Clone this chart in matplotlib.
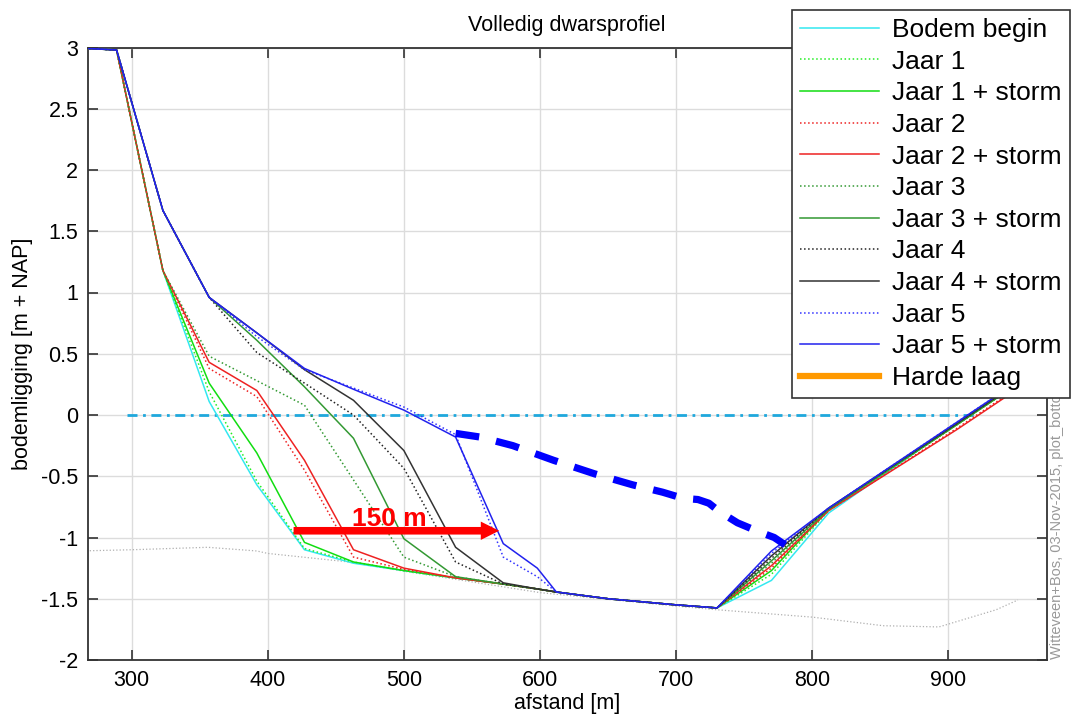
import matplotlib
matplotlib.use('Agg')
import matplotlib.pyplot as plt
from matplotlib.lines import Line2D
from matplotlib.patches import FancyArrow

plt.rcParams['font.family'] = ['Liberation Sans', 'DejaVu Sans']

# ---------------- data ----------------
x_nodes = [254, 289, 323, 357, 392, 427, 463, 500, 538, 573, 598, 612, 650, 700, 730, 770, 812, 906, 941, 975]

bodem_begin   = [3.0, 2.98, 1.18, 0.11, -0.57, -1.10, -1.21, -1.27, -1.33, -1.38, -1.42, -1.445, -1.50, -1.55, -1.575, -1.35, -0.80, -0.07, 0.19, 0.45]
jaar1         = [3.0, 2.98, 1.18, 0.19, -0.54, -1.09, -1.20, -1.27, -1.33, -1.38, -1.42, -1.445, -1.50, -1.55, -1.575, -1.30, -0.78, -0.08, 0.18, 0.44]
jaar1_storm   = [3.0, 2.98, 1.18, 0.26, -0.31, -1.04, -1.20, -1.27, -1.33, -1.38, -1.42, -1.445, -1.50, -1.55, -1.575, -1.27, -0.77, -0.08, 0.18, 0.44]
jaar2         = [3.0, 2.98, 1.18, 0.38, 0.15, -0.45, -1.16, -1.26, -1.33, -1.38, -1.42, -1.445, -1.50, -1.55, -1.575, -1.25, -0.78, -0.11, 0.15, 0.41]
jaar2_storm   = [3.0, 2.98, 1.18, 0.43, 0.20, -0.37, -1.10, -1.25, -1.33, -1.38, -1.42, -1.445, -1.50, -1.55, -1.575, -1.23, -0.78, -0.12, 0.14, 0.40]
jaar3         = [3.0, 2.98, 1.18, 0.48, 0.28, 0.08, -0.53, -1.16, -1.32, -1.38, -1.42, -1.445, -1.50, -1.55, -1.575, -1.21, -0.77, -0.08, 0.18, 0.44]
jaar3_storm   = [3.0, 2.98, 1.67, 0.96, 0.61, 0.23, -0.19, -1.01, -1.32, -1.38, -1.42, -1.445, -1.50, -1.55, -1.575, -1.19, -0.77, -0.08, 0.18, 0.44]
jaar4         = [3.0, 2.98, 1.67, 0.96, 0.51, 0.26, 0.00, -0.435, -1.20, -1.38, -1.42, -1.445, -1.50, -1.55, -1.575, -1.17, -0.76, -0.07, 0.19, 0.45]
jaar4_storm   = [3.0, 2.98, 1.67, 0.96, 0.67, 0.37, 0.12, -0.29, -1.08, -1.37, -1.42, -1.445, -1.50, -1.55, -1.575, -1.15, -0.76, -0.07, 0.19, 0.45]
jaar5         = [3.0, 2.98, 1.67, 0.96, 0.64, 0.37, 0.22, 0.065, -0.16, -1.16, -1.32, -1.445, -1.50, -1.55, -1.575, -1.13, -0.76, -0.06, 0.20, 0.46]
jaar5_storm   = [3.0, 2.98, 1.67, 0.96, 0.67, 0.38, 0.21, 0.04, -0.18, -1.05, -1.25, -1.445, -1.50, -1.55, -1.575, -1.11, -0.76, -0.06, 0.20, 0.46]

# grey reference line (not in legend)
x_grey = [262, 300, 356, 392, 400, 460, 500, 600, 700, 730, 800, 852, 893, 935, 951]
y_grey = [-1.11, -1.10, -1.08, -1.11, -1.13, -1.20, -1.275, -1.45, -1.56, -1.59, -1.65, -1.72, -1.73, -1.59, -1.51]

# water level line (NAP 0)
x_water = [297, 922]
y_water = [0.0, 0.0]

# sketched erosion profile (thick blue dashed)
x_ero = [538, 556, 580, 610, 640, 668, 690, 705, 716, 724, 732, 745, 760, 772, 780]
y_ero = [-0.15, -0.18, -0.25, -0.37, -0.48, -0.57, -0.63, -0.68, -0.69, -0.72, -0.79, -0.88, -0.95, -1.00, -1.06]

# arrow annotation
arrow_x = [419, 570]
arrow_y = -0.945
arrow_label = '150 m'

labels = ['Bodem begin', 'Jaar 1', 'Jaar 1 + storm', 'Jaar 2', 'Jaar 2 + storm',
          'Jaar 3', 'Jaar 3 + storm', 'Jaar 4', 'Jaar 4 + storm', 'Jaar 5',
          'Jaar 5 + storm', 'Harde laag']
series = [bodem_begin, jaar1, jaar1_storm, jaar2, jaar2_storm, jaar3, jaar3_storm,
          jaar4, jaar4_storm, jaar5, jaar5_storm]
colors = ['#33e8f0', '#22ee22', '#11dd11', '#ee2222', '#ee2222', '#339933', '#339933',
          '#222222', '#333333', '#3333ff', '#2222ee']
styles = ['-', ':', '-', ':', '-', ':', '-', ':', '-', ':', '-']

# ---------------- figure ----------------
W, H = 1073, 719
fig = plt.figure(figsize=(W / 100, H / 100), dpi=100)
ax = fig.add_axes([88 / W, 1 - 660 / H, (1046.5 - 88) / W, (660 - 47.5) / H])

ax.plot(x_grey, y_grey, color='#b0b0b0', lw=0.9, ls=':', zorder=2)
ax.plot(x_water, y_water, color='#1fa8dc', lw=2.0, ls=(0, (3.6, 2.0, 1.0, 2.0)), zorder=2)

handles = []
for ys, c, s, lab in zip(series, colors, styles, labels):
    ln, = ax.plot(x_nodes, ys, color=c, ls=s, lw=1.1, label=lab, zorder=3)
    handles.append(ln)
handles.append(Line2D([], [], color='#ff9900', lw=4.5))

ax.plot(x_ero, y_ero, color='#0000ff', lw=5.2, ls=(0, (3.3, 2.4)),
        solid_capstyle='butt', dash_capstyle='butt', zorder=4)

ax.add_patch(FancyArrow(arrow_x[0], arrow_y, arrow_x[1] - arrow_x[0], 0,
                        width=0.062, head_width=0.15, head_length=13.5,
                        length_includes_head=True, color='#ff0000', lw=0, zorder=5))
ax.text(sum(arrow_x) / 2 - 5, -0.905, arrow_label, color='#ff0000', fontsize=19,
        fontweight='bold', ha='center', va='baseline', zorder=5)

ax.set_xlim(268, 972)
ax.set_ylim(-2, 3)
ax.set_xticks([300, 400, 500, 600, 700, 800, 900])
ax.set_yticks([-2, -1.5, -1, -0.5, 0, 0.5, 1, 1.5, 2, 2.5, 3])
ax.set_yticklabels(['-2', '-1.5', '-1', '-0.5', '0', '0.5', '1', '1.5', '2', '2.5', '3'])
ax.grid(True, color='#dcdcdc', lw=1.0)
ax.set_axisbelow(True)
ax.tick_params(direction='in', length=7, width=1.2, top=True, right=True,
               labelsize=15.5, color='#333333')
ax.tick_params(axis='x', pad=7)
ax.tick_params(axis='y', pad=7)
for sp in ax.spines.values():
    sp.set_color('#333333')
    sp.set_linewidth(1.3)

ax.set_title('Volledig dwarsprofiel', fontsize=15.5, pad=12)
ax.set_xlabel('afstand [m]', fontsize=15.5, labelpad=2)
ax.set_ylabel('bodemligging [m + NAP]', fontsize=15.5, labelpad=6)

fig.text(1057 / W, 1 - 659 / H, 'Witteveen+Bos, 03-Nov-2015, plot_bottom_profiles',
         rotation=90, ha='center', va='bottom', fontsize=10.5, color='#999999')

leg = fig.legend(handles, labels, loc='upper right', bbox_to_anchor=(1070 / W, 1 - 10 / H),
                 fontsize=19, handlelength=3.0, handletextpad=0.5, labelspacing=0.29,
                 borderpad=0.3, borderaxespad=0, fancybox=False, framealpha=1,
                 edgecolor='#333333')
leg.get_frame().set_linewidth(1.2)

fig.savefig('out.png', dpi=100)
